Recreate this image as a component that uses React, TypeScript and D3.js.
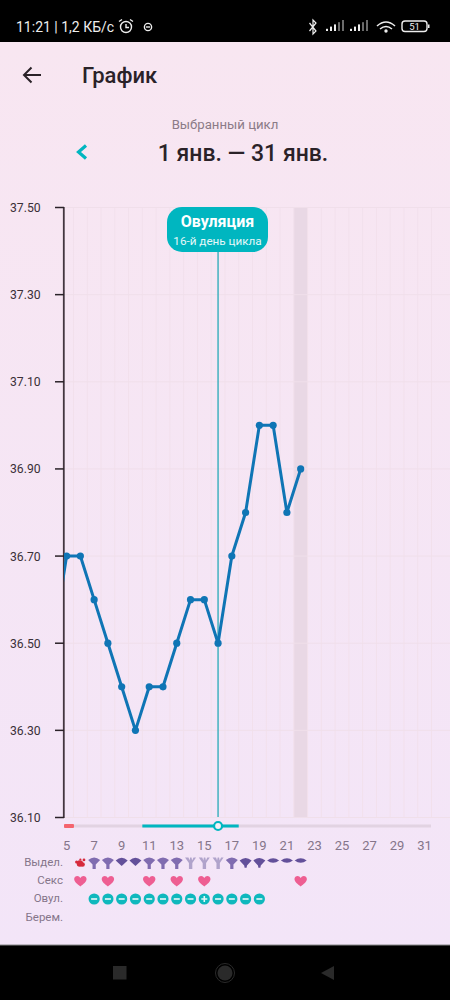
import React from "react";
import * as d3 from "d3";

const days = [4, 5, 6, 7, 8, 9, 10, 11, 12, 13, 14, 15, 16, 17, 18, 19, 20, 21, 22];
const temps = [36.5, 36.7, 36.7, 36.6, 36.5, 36.4, 36.3, 36.4, 36.4, 36.5, 36.6, 36.6, 36.5, 36.7, 36.8, 37.0, 37.0, 36.8, 36.9];
const yTicks = [37.5, 37.3, 37.1, 36.9, 36.7, 36.5, 36.3, 36.1];
const xTicks = [5, 7, 9, 11, 13, 15, 17, 19, 21, 23, 25, 27, 29, 31];
const rowLabels = ["Выдел.", "Секс", "Овул.", "Берем."];
const dischargeDays = [6, 7, 8, 9, 10, 11, 12, 13, 14, 15, 16, 17, 18, 19, 20, 21, 22];
const dischargeKinds = ["blood", "stem", "stem", "fan", "fan", "stem", "stem", "stem", "light", "light", "light", "stem", "short", "short", "flat", "flat", "flat"];
const sexDays = [6, 8, 11, 13, 15, 22];
const ovulationDays = [7, 8, 9, 10, 11, 12, 13, 14, 15, 16, 17, 18, 19];
const ovulationSigns = ["-", "-", "-", "-", "-", "-", "-", "-", "+", "-", "-", "-", "-"];
const ovulationDay = 16;
const highlightDay = 22;
const periodEndDay = 5.5;
const fertileStart = 10.5;
const fertileEnd = 17.5;

const FONT = "Roboto, sans-serif";
const x = d3.scaleLinear().domain([5, 31]).range([66.6, 424.6]);
const y = d3.scaleLinear().domain([36.1, 37.5]).range([817.5, 207.5]);
const line = d3.line<number>().x((_, i) => x(days[i])).y((d) => y(d));
const gridDays = d3.range(5.5, 32, 1);

function Discharge({ kind, cx, cy }: { kind: string; cx: number; cy: number }) {
  const purple = "#806cb0";
  const dark = "#63509a";
  const light = "#b0a3cb";
  const t = `translate(${cx},${cy})`;
  if (kind === "blood")
    return (
      <g transform={t} fill="#d62a3c">
        <circle cx={-0.5} cy={1} r={3.2} />
        <circle cx={2.2} cy={2} r={2.3} />
        <circle cx={-3.8} cy={-0.5} r={1.5} />
        <circle cx={3.6} cy={-2.6} r={1.4} />
        <circle cx={0} cy={-3} r={1.1} />
      </g>
    );
  if (kind === "stem")
    return (
      <g transform={t} fill={purple}>
        <path d="M-6,-2.5 Q0,-7.5 6,-2.5 L1.6,2 L1.6,6.5 L-1.6,6.5 L-1.6,2 Z" />
      </g>
    );
  if (kind === "fan")
    return (
      <g transform={t} fill={dark}>
        <path d="M-6,-2 Q0,-7.5 6,-2 L0,3.5 Z" />
      </g>
    );
  if (kind === "short")
    return (
      <g transform={t} fill={dark}>
        <path d="M-6,-2 Q0,-7 6,-2 L1.4,3 L1,5.2 L-1,5.2 L-1.4,3 Z" />
      </g>
    );
  if (kind === "flat")
    return (
      <g transform={t} fill={dark}>
        <path d="M-6,-2 Q0,-6.5 6,-2 Q0,2.5 -6,-2 Z" />
      </g>
    );
  return (
    <g transform={t} fill={light}>
      <path d="M-5.5,-5 L-2,-5 L-1,-2 L-0.4,-5 L1,-5 L1.6,-2 L3,-5 L5.5,-5 L1.8,0.5 L1.8,6.5 L-1.6,6.5 L-1.6,0.5 Z" />
    </g>
  );
}

function Heart({ cx, cy }: { cx: number; cy: number }) {
  return (
    <path
      transform={`translate(${cx},${cy})`}
      fill="#ee5e92"
      d="M0,5.6 C-3,3.2 -6.2,0.9 -6.2,-1.9 C-6.2,-4 -4.6,-5 -3.1,-5 C-1.8,-5 -0.7,-4.2 0,-3.1 C0.7,-4.2 1.8,-5 3.1,-5 C4.6,-5 6.2,-4 6.2,-1.9 C6.2,0.9 3,3.2 0,5.6 Z"
    />
  );
}

export default function App() {
  const teal = "#00b6c0";
  return (
    <svg width={450} height={1000} style={{ position: "absolute", left: 0, top: 0, display: "block" }} fontFamily={FONT}>
      <defs>
        <linearGradient id="bg" x1="0" x2="0" y1="0" y2="1">
          <stop offset="0.04" stopColor="#f8e6f1" />
          <stop offset="0.95" stopColor="#f3e5f8" />
        </linearGradient>
        <clipPath id="plot">
          <rect x={64} y={200} width={370} height={620} />
        </clipPath>
      </defs>
      <rect width={450} height={1000} fill="url(#bg)" />

      {/* status bar */}
      <rect width={450} height={42} fill="#000" />
      <text x={16} y={32} fontSize={14} fill="#eee">11:21 | 1,2 КБ/с</text>
      <g fill="none" stroke="#eee" strokeWidth={1.4}>
        <circle cx={126} cy={27} r={5.5} />
        <path d="M126,24 V27.5 H129 M119,21.5 L122,19.5 M133,21.5 L130,19.5" />
        <circle cx={148} cy={27} r={3.6} />
        <path d="M146,27 H150" />
        <rect x={402} y={21} width={25} height={10.5} rx={3} />
      </g>
      <text x={414.5} y={30} fontSize={9.5} fill="#eee" textAnchor="middle">51</text>
      <rect x={428} y={24.5} width={1.5} height={3.5} fill="#eee" />
      <path d="M309.5,23 L316,31 L313,34 V20 L316,23 L309.5,31" fill="none" stroke="#eee" strokeWidth={1.2} />
      {[326, 350].map((bx) => (
        <g key={bx} fill="#eee">
          {[0, 1, 2, 3, 4].map((i) => (
            <rect key={i} x={bx + i * 4} y={31 - (i + 1) * 2.2} width={2} height={(i + 1) * 2.2} opacity={i < 3 ? 1 : 0.45} />
          ))}
        </g>
      ))}
      <g fill="none" stroke="#eee" strokeWidth={1.6}>
        <path d="M377,26 Q386,18 395,26 M380,29 Q386,24 392,29" />
        <circle cx={386} cy={31} r={0.9} fill="#eee" />
      </g>

      {/* header */}
      <path d="M41,75 H24 M31.5,67.5 L24,75 L31.5,82.5" fill="none" stroke="#2a2228" strokeWidth={2} />
      <text x={82} y={83} fontSize={22} fontWeight={500} fill="#2a2228">График</text>
      <text x={225} y={129} fontSize={13.2} textAnchor="middle" fill="#8b7b87">Выбранный цикл</text>
      <path d="M86,145.5 L78.5,152 L86,158.5" fill="none" stroke={teal} strokeWidth={3.2} />
      <text x={243} y={161} fontSize={23} fontWeight={500} textAnchor="middle" fill="#2a2228">1 янв. — 31 янв.</text>

      {/* plot grid */}
      <rect x={x(highlightDay - 0.5)} y={207.5} width={x(1) - x(0)} height={610} fill="#e9d8e5" />
      {gridDays.map((d) => (
        <line key={d} x1={x(d)} x2={x(d)} y1={207.5} y2={817.5} stroke="#f2e0ec" strokeWidth={1} />
      ))}
      {yTicks.map((t) => (
        <line key={t} x1={64} x2={450} y1={y(t)} y2={y(t)} stroke="#f0dfea" strokeWidth={1} />
      ))}

      {/* y axis */}
      <line x1={63.8} x2={63.8} y1={207} y2={818} stroke="#43363f" strokeWidth={1.8} />
      {yTicks.map((t) => (
        <g key={t}>
          <line x1={55} x2={64} y1={y(t)} y2={y(t)} stroke="#2a2228" strokeWidth={1.5} />
          <text x={10} y={y(t) + 4.5} fontSize={12.2} fill="#3a3038">{t.toFixed(2)}</text>
        </g>
      ))}

      {/* ovulation marker */}
      <line x1={x(ovulationDay)} x2={x(ovulationDay)} y1={245} y2={817} stroke="#35aebb" strokeWidth={1.4} />
      <rect x={167} y={207} width={101} height={45} rx={15} fill={teal} />
      <text x={217.5} y={227} fontSize={16} fontWeight={700} fill="#fff" textAnchor="middle">Овуляция</text>
      <text x={217.5} y={244.5} fontSize={11.7} fill="#e6f8f9" textAnchor="middle">16-й день цикла</text>

      {/* series */}
      <g clipPath="url(#plot)">
        <path d={line(temps) ?? ""} fill="none" stroke="#0f75b5" strokeWidth={3} strokeLinejoin="round" />
        {temps.map((t, i) => (
          <circle key={days[i]} cx={x(days[i])} cy={y(t)} r={3.6} fill="#0f75b5" />
        ))}
      </g>

      {/* range bar */}
      <rect x={64} y={824.5} width={367} height={3} fill="#e2d3e2" />
      <rect x={64} y={824} width={x(periodEndDay) - 64 + 0.5} height={4} rx={1} fill="#f4646e" />
      <rect x={x(fertileStart)} y={824.5} width={x(fertileEnd) - x(fertileStart)} height={3} fill={teal} />
      <circle cx={x(ovulationDay)} cy={826} r={4} fill="#f6f0f6" stroke={teal} strokeWidth={2.2} />

      {/* x labels */}
      {xTicks.map((t) => (
        <text key={t} x={x(t)} y={850} fontSize={13} textAnchor="middle" fill="#85758a">{t}</text>
      ))}

      {/* rows */}
      {rowLabels.map((l, i) => (
        <text key={l} x={63} y={866 + i * 18.2} fontSize={11.5} textAnchor="end" fill="#85758a">{l}</text>
      ))}
      {dischargeDays.map((d, i) => (
        <Discharge key={d} kind={dischargeKinds[i]} cx={x(d)} cy={862.5} />
      ))}
      {sexDays.map((d) => (
        <Heart key={d} cx={x(d)} cy={881} />
      ))}
      {ovulationDays.map((d, i) => (
        <g key={d} transform={`translate(${x(d)},899)`}>
          <circle r={5.6} fill="#0fb8bd" />
          <path d={ovulationSigns[i] === "+" ? "M-3,0 H3 M0,-3 V3" : "M-3,0 H3"} stroke="#e8f8f8" strokeWidth={1.6} />
        </g>
      ))}

      {/* nav bar */}
      <rect y={945} width={450} height={55} fill="#000" />
      <rect y={944.5} width={450} height={1} fill="#888" />
      <rect x={113} y={966} width={13.5} height={13.5} fill="#2a2a2a" />
      <circle cx={225} cy={973} r={7.5} fill="#2a2a2a" />
      <circle cx={225} cy={973} r={9.5} fill="none" stroke="#2a2a2a" strokeWidth={1} />
      <path d="M334,966 V980 L321,973 Z" fill="#2a2a2a" />
    </svg>
  );
}
